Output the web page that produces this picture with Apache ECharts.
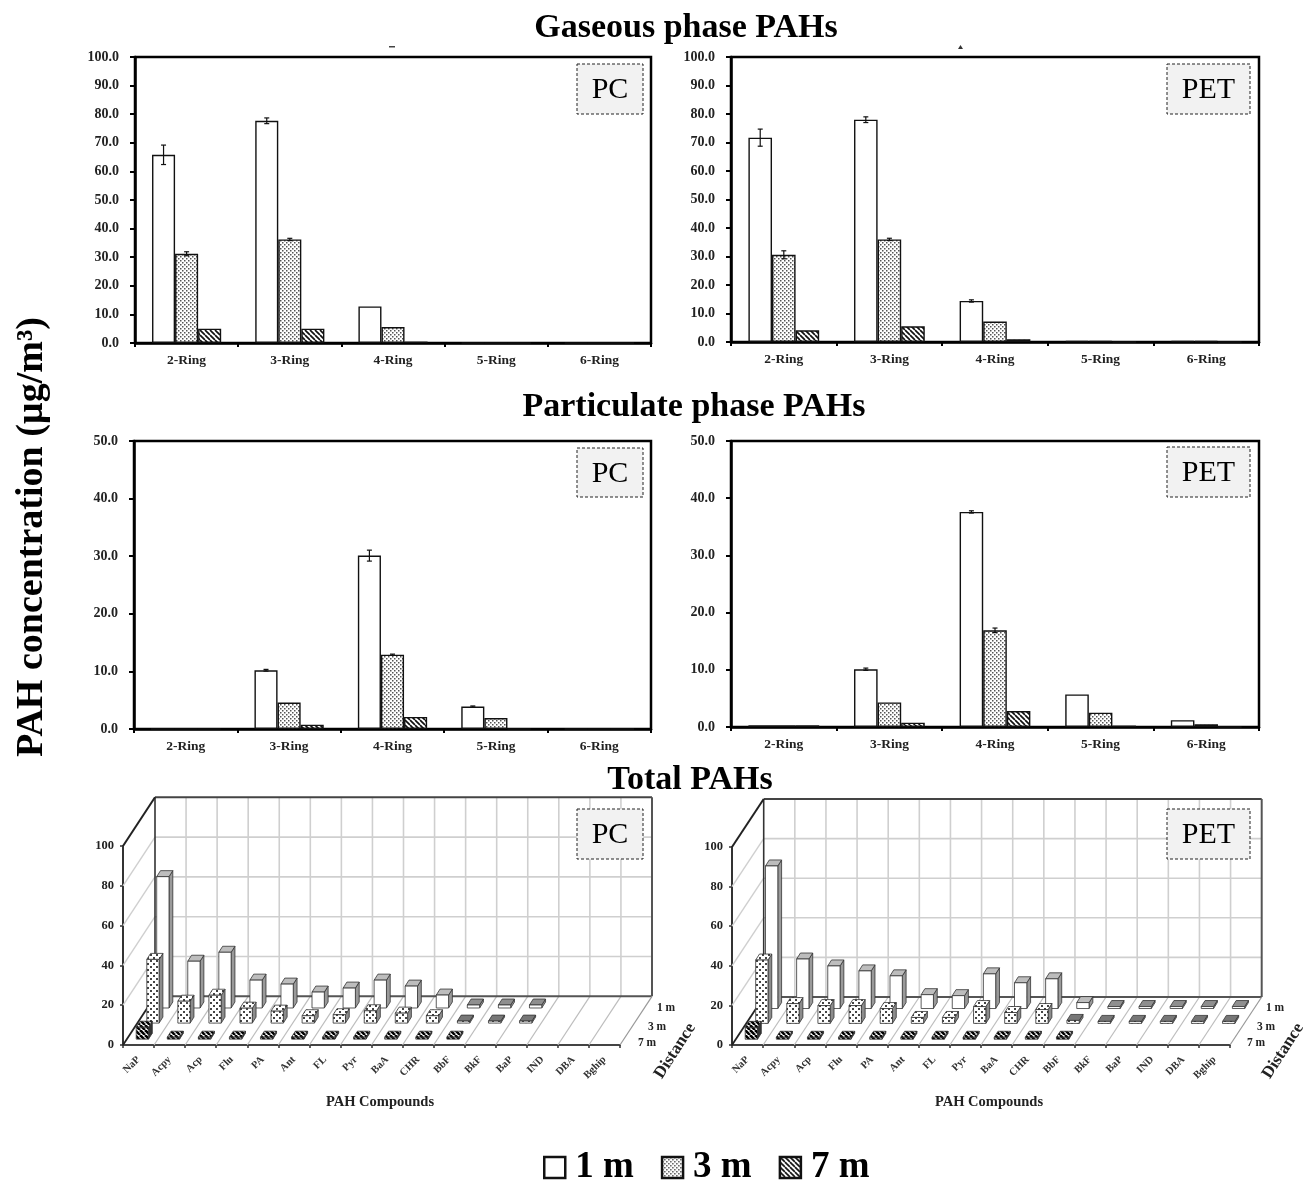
<!DOCTYPE html>
<html><head><meta charset="utf-8">
<style>html,body{margin:0;padding:0;background:#fff}#c{width:1307px;height:1180px;filter:blur(0.45px)}</style>
<script src="https://cdn.jsdelivr.net/npm/echarts@6/dist/echarts.min.js"></script>
</head><body><div id="c"></div>
<script>
const ringCats = ['2-Ring','3-Ring','4-Ring','5-Ring','6-Ring'];
const compounds = ['NaP','Acpy','Acp','Flu','PA','Ant','FL','Pyr','BaA','CHR','BbF','BkF','BaP','IND','DBA','Bghip'];
const seriesNames = ['1 m','3 m','7 m'];

// Gaseous phase
const gasPC1 = [65.8,77.7,12.8,0,0];
const gasPC3 = [31.2,36.2,5.6,0,0];
const gasPC7 = [5.0,5.0,0.5,0,0];
const gasPC1Err = [3.4,1.0,0,0,0];
const gasPC3Err = [0.7,0.4,0,0,0];
const gasPET1 = [71.7,78.0,14.4,0.4,0.4];
const gasPET3 = [30.6,36.0,7.2,0.4,0.4];
const gasPET7 = [4.1,5.5,1.0,0,0];
const gasPET1Err = [3.0,1.0,0.4,0,0];
const gasPET3Err = [1.4,0.4,0,0,0];
// Particulate phase
const partPC1 = [0,10.2,30.1,3.9,0];
const partPC3 = [0,4.6,12.9,1.9,0];
const partPC7 = [0,0.75,2.1,0,0];
const partPC1Err = [0,0.15,0.95,0.1,0];
const partPC3Err = [0,0,0.1,0,0];
const partPET1 = [0.3,10.1,37.6,5.7,1.2];
const partPET3 = [0.3,4.3,16.9,2.5,0.5];
const partPET7 = [0.3,0.75,2.8,0.25,0];
const partPET1Err = [0,0.2,0.2,0,0];
const partPET3Err = [0,0,0.4,0,0];
// Total
const totPC1 = [66,23.5,28,14,12,8,10,14,11,6.5,1.5,1.5,1.5];
const totPC3 = [32,11,14,7.5,6,3.7,4.2,6.2,5,3.7,1,1,1];
const totPC7 = [6,1,1,1,1,1,1,1,1,1,1];
const totPET1 = [72,25,21.5,19,16.5,7,6.5,17.5,13,15,3,1,1,1,1,1];
const totPET3 = [32,10,9,9,7.5,3,3,8.5,5.5,7,1.5,1,1,1,1,1];
const totPET7 = [6,1,1,1,1,1,1,1,1,1,1];
const yTicks3D = [0,20,40,60,80,100];

const FONT = 'Liberation Serif';
function makePattern(draw,size){
  const c=document.createElement('canvas');c.width=c.height=size;
  const g=c.getContext('2d');g.fillStyle='#fff';g.fillRect(0,0,size,size);draw(g,size);
  return {image:c,repeat:'repeat'};
}
const dots = makePattern((g)=>{g.fillStyle='#555';g.fillRect(0,0,1.5,1.5);g.fillRect(2,2,1.5,1.5);},4);
const dots3D = makePattern((g)=>{g.fillStyle='#444';g.fillRect(0,0,2,2);g.fillRect(3,3,2,2);},6);
const hatch = makePattern((g,s)=>{g.strokeStyle='#111';g.lineWidth=1.7;
  for(let i=-s;i<=s*2;i+=s){g.beginPath();g.moveTo(i,0);g.lineTo(i+s,s);g.stroke();}},5);
const hatch3D = makePattern((g,s)=>{g.strokeStyle='#000';g.lineWidth=2.6;
  for(let i=-s;i<=s*2;i+=s){g.beginPath();g.moveTo(i,0);g.lineTo(i+s,s);g.stroke();}},5);
const fills=['#fff',dots,hatch];

const grid=[],xAxis=[],yAxis=[],series=[],elements=[];

function panel2D(left,top,width,height,maxV,vals,errs){
  const k=grid.length;
  grid.push({left,top,width,height,show:true,borderColor:'#000',borderWidth:2.5,backgroundColor:'transparent'});
  xAxis.push({gridIndex:k,type:'category',data:ringCats,boundaryGap:true,
    axisLine:{lineStyle:{color:'#000',width:2.5}},
    axisTick:{show:true,length:4,lineStyle:{color:'#000',width:2}},
    axisLabel:{interval:0,margin:11,fontFamily:FONT,fontWeight:'bold',fontSize:13.5,color:'#222'},
    splitLine:{show:false}});
  yAxis.push({gridIndex:k,type:'value',min:0,max:maxV,interval:10,
    axisLine:{show:true,lineStyle:{color:'#000',width:2.5}},
    axisTick:{show:true,length:5,lineStyle:{color:'#000',width:2}},
    axisLabel:{margin:16,formatter:v=>v.toFixed(1),fontFamily:FONT,fontWeight:'bold',fontSize:14,color:'#222'},
    splitLine:{show:false}});
  vals.forEach((d,s)=>series.push({type:'bar',name:seriesNames[s],xAxisIndex:k,yAxisIndex:k,data:d,
    barGap:0,barCategoryGap:'33%',itemStyle:{color:fills[s],borderColor:'#111',borderWidth:1.4},
    animation:false,silent:true}));
  errs.forEach((e,s)=>{
    const data=[];e.forEach((v,i)=>{if(v>0)data.push([i,vals[s][i],v]);});
    series.push({type:'custom',name:'err'+k+s,xAxisIndex:k,yAxisIndex:k,data,animation:false,silent:true,z:5,
      renderItem(p,api){
        const i=api.value(0),v=api.value(1),e=api.value(2),bw=api.size([1,0])[0];
        const off=(s-1)*bw*0.67/3;
        const cx=api.coord([i,v])[0]+off, a=api.coord([i,v+e])[1], b=api.coord([i,v-e])[1];
        const st={stroke:'#111',lineWidth:1.2,fill:'none'};
        return {type:'group',children:[
          {type:'line',shape:{x1:cx,y1:a,x2:cx,y2:b},style:st},
          {type:'line',shape:{x1:cx-2.5,y1:a,x2:cx+2.5,y2:a},style:st},
          {type:'line',shape:{x1:cx-2.5,y1:b,x2:cx+2.5,y2:b},style:st}]};
      }});
  });
}

function panel3D(left,top,width,height,dx,dy,vals){
  const k=grid.length;
  grid.push({left,top,width,height,show:false});
  xAxis.push({gridIndex:k,type:'category',data:compounds,boundaryGap:true,
    axisLine:{lineStyle:{color:'#444',width:2}},
    axisTick:{show:true,length:3,lineStyle:{color:'#333',width:1.5}},
    axisLabel:{interval:0,rotate:45,margin:13,fontFamily:FONT,fontWeight:'bold',fontSize:10.5,color:'#333'},
    splitLine:{show:false}});
  yAxis.push({gridIndex:k,type:'value',min:0,max:100,interval:20,
    axisLine:{show:true,lineStyle:{color:'#333',width:2}},
    axisTick:{show:true,length:3,lineStyle:{color:'#333',width:1.5}},
    axisLabel:{margin:9,fontFamily:FONT,fontWeight:'bold',fontSize:12.5,color:'#222'},
    splitLine:{show:false}});
  series.push({type:'custom',name:'frame'+k,xAxisIndex:k,yAxisIndex:k,data:[[0,0]],animation:false,silent:true,z:1,
    renderItem(p,api){
      const n=compounds.length, bw=api.size([1,0])[0];
      const x0=api.coord([0,0])[0]-bw/2, y0=api.coord([0,0])[1], xN=x0+bw*n;
      const ln=(x1,y1,x2,y2,c,w)=>({type:'line',shape:{x1,y1,x2,y2},style:{stroke:c,lineWidth:w,fill:'none'}});
      const ch=[]; const lg='#cfcfcf';
      const yT=api.coord([0,100])[1];
      for(let i=1;i<n;i++){
        const x=x0+bw*i;
        ch.push(ln(x,y0,x+dx,y0+dy,'#bdbdbd',1.2));
        ch.push(ln(x+dx,y0+dy,x+dx,yT+dy,lg,1.6));
      }
      yTicks3D.forEach(v=>{
        if(v===0||v===100)return;
        const y=api.coord([0,v])[1];
        ch.push(ln(x0,y,x0+dx,y+dy,lg,1.4));
        ch.push(ln(x0+dx,y+dy,xN+dx,y+dy,lg,1.6));
      });
      ch.push(ln(x0+dx,y0+dy,xN+dx,y0+dy,'#555',2));
      ch.push(ln(x0+dx,yT+dy,xN+dx,yT+dy,'#444',2));
      ch.push(ln(xN+dx,yT+dy,xN+dx,y0+dy,'#555',2));
      ch.push(ln(x0+dx,yT+dy,x0+dx,y0+dy,'#333',1.6));
      ch.push(ln(x0,yT,x0+dx,yT+dy,'#222',2));
      ch.push(ln(x0,y0,x0+dx,y0+dy,'#222',1.8));
      ch.push(ln(xN,y0,xN+dx,y0+dy,'#999',1.2));
      return {type:'group',children:ch};
    }});
  const depths=[0.76,0.45,0.12];
  const sideCol=['#9a9a9a','#8c8c8c','#333'], topCol=['#bdbdbd',dots3D,hatch3D], faceCol=['#fff',dots3D,hatch3D];
  vals.forEach((d,s)=>{
    series.push({type:'custom',name:seriesNames[s]+' row'+k,xAxisIndex:k,yAxisIndex:k,
      data:d.map((v,i)=>[i,v]),animation:false,silent:true,z:3+s,
      renderItem(p,api){
        const i=api.value(0),v=api.value(1),t=depths[s];
        const base=api.coord([i,0]),tp=api.coord([i,v]);
        const w=12.3,sx=3.8,sy=-6;
        const xL=base[0]+t*dx-w/2,xR=xL+w,yB=base[1]+t*dy,yT=tp[1]+t*dy;
        const edge={stroke:'#333',lineWidth:0.8};
        const flat=v<=2&&s<2;
        return {type:'group',children:[
          {type:'polygon',shape:{points:[[xR,yB],[xR+sx,yB+sy],[xR+sx,yT+sy],[xR,yT]]},style:{fill:sideCol[s],...edge}},
          {type:'polygon',shape:{points:[[xL,yT],[xR,yT],[xR+sx,yT+sy],[xL+sx,yT+sy]]},style:{fill:flat?(s===0?'#8f8f8f':'#777'):topCol[s],...edge}},
          {type:'rect',shape:{x:xL,y:yT,width:w,height:yB-yT},style:{fill:faceCol[s],...edge}}
        ]};
      }});
  });
}

panel2D(135,57,516,286,100,[gasPC1,gasPC3,gasPC7],[gasPC1Err,gasPC3Err]);
panel2D(731,57,528,285,100,[gasPET1,gasPET3,gasPET7],[gasPET1Err,gasPET3Err]);
panel2D(134,441,517,288,50,[partPC1,partPC3,partPC7],[partPC1Err,partPC3Err]);
panel2D(731,441,528,286,50,[partPET1,partPET3,partPET7],[partPET1Err,partPET3Err]);
panel3D(123,846,497,199,32,-48.7,[totPC1,totPC3,totPC7]);
panel3D(732,847,498,198,31.7,-48,[totPET1,totPET3,totPET7]);

function txt(text,x,y,font,rot,color){
  elements.push({type:'text',x,y,rotation:rot||0,z:20,silent:true,
    style:{text,font,fill:color||'#000',textAlign:'center',textVerticalAlign:'middle'}});
}
function tag(label,x,y,w,h){
  elements.push({type:'rect',z:19,silent:true,shape:{x,y,width:w,height:h},
    style:{fill:'#f2f2f2',stroke:'#222',lineWidth:1,lineDash:[3,2]}});
  txt(label,x+w/2,y+h/2+1.5,`30px "${FONT}"`);
}
const bold=s=>`bold ${s}px "${FONT}"`;
txt('Gaseous phase PAHs',686,28,bold(34));
txt('Particulate phase PAHs',694,407,bold(34));
txt('Total PAHs',690,780,bold(34));
txt('PAH concentration (µg/m³)',32,537,bold(38),Math.PI/2);
tag('PC',577,64,66,50); tag('PET',1167,64,83,50);
tag('PC',577,448,66,49); tag('PET',1167,447,83,50);
tag('PC',577,809,66,50); tag('PET',1167,809,83,50);
txt('PAH Compounds',380,1102,bold(14.5),0,'#222');
txt('PAH Compounds',989,1102,bold(14.5),0,'#222');
txt('Distance',675,1051,bold(17),Math.PI*57/180,'#222');
txt('Distance',1283,1051,bold(17),Math.PI*57/180,'#222');
[[666,1008,'1 m'],[657,1027,'3 m'],[647,1043,'7 m'],[1275,1008,'1 m'],[1266,1027,'3 m'],[1256,1043,'7 m']]
  .forEach(a=>txt(a[2],a[0],a[1],bold(11.5),0,'#222'));
elements.push({type:'rect',z:20,silent:true,shape:{x:389,y:46,width:6,height:1.5},style:{fill:'#444'}});
elements.push({type:'polygon',z:20,silent:true,shape:{points:[[958,49],[963,49],[960.5,45]]},style:{fill:'#333'}});

const chart=echarts.init(document.getElementById('c'),null,{renderer:'canvas'});
chart.setOption({
  backgroundColor:'#fff',animation:false,
  grid,xAxis,yAxis,series,
  legend:{data:seriesNames,icon:'rect',left:538,top:1144,itemWidth:21,itemHeight:21,itemGap:27,selectedMode:false,
    itemStyle:{borderColor:'#111',borderWidth:2.5},
    textStyle:{fontFamily:FONT,fontWeight:'bold',fontSize:37,color:'#000',padding:[0,0,0,5]}},
  graphic:{elements}
});
</script></body></html>
